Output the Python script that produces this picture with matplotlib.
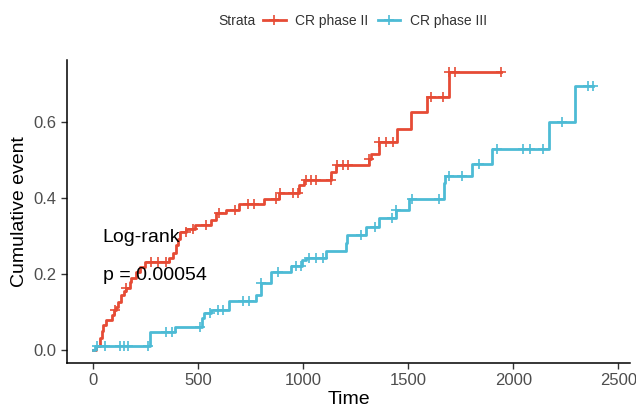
import numpy as np
import matplotlib
matplotlib.use("Agg")
import matplotlib.pyplot as plt
from matplotlib.lines import Line2D

plt.rcParams["font.family"] = ["Liberation Sans", "DejaVu Sans"]

# cumulative event curves (step times / values)
red_t = [0, 17, 33, 45, 49, 65, 89, 100, 112, 120, 136, 150, 160, 175, 183, 207, 223, 247,
         362, 381, 397, 405, 413, 445, 484, 563, 587, 635, 697, 816, 887, 982, 1006,
         1133, 1157, 1314, 1325, 1361, 1447, 1513, 1590, 1694, 1940]
red_v = [0, 0.01, 0.03, 0.05, 0.066, 0.079, 0.092, 0.105, 0.114, 0.125, 0.145, 0.155, 0.162,
         0.178, 0.189, 0.206, 0.219, 0.232, 0.243, 0.256, 0.276, 0.292, 0.311, 0.32, 0.329,
         0.342, 0.36, 0.368, 0.384, 0.397, 0.414, 0.434, 0.447, 0.469, 0.489, 0.503, 0.517,
         0.548, 0.583, 0.627, 0.667, 0.732, 0.732]
red_cens = [105, 160, 278, 310, 350, 444, 476, 539, 602, 674, 737, 768, 871, 888, 950, 974,
            1014, 1037, 1061, 1132, 1159, 1188, 1216, 1314, 1361, 1396, 1428, 1607, 1665,
            1694, 1722, 1940]

blue_t = [0, 9, 270, 389, 520, 531, 563, 650, 776, 800, 848, 943, 995, 1014, 1109, 1205,
          1210, 1298, 1361, 1441, 1504, 1670, 1675, 1804, 1899, 2168, 2295, 2381]
blue_v = [0, 0.01, 0.048, 0.061, 0.083, 0.096, 0.105, 0.129, 0.145, 0.175, 0.206, 0.221,
          0.237, 0.241, 0.261, 0.281, 0.303, 0.325, 0.347, 0.368, 0.399, 0.44, 0.458, 0.491,
          0.531, 0.601, 0.697, 0.697]
blue_cens = [20, 57, 128, 149, 168, 262, 350, 376, 508, 557, 597, 620, 713, 744, 800, 880,
             966, 990, 1030, 1061, 1093, 1274, 1342, 1425, 1441, 1520, 1647, 1694, 1757, 1836,
             1922, 2048, 2080, 2143, 2231, 2357, 2381]

labels = ["CR phase II", "CR phase III"]
colors = ["#E64B35", "#4DBBD5"]


def at(ts, vs, c):
    idx = np.searchsorted(ts, c, side="right") - 1
    return np.array(vs)[idx]


fig = plt.figure(figsize=(6.36, 4.08), dpi=100)
ax = fig.add_axes([0.1053, 0.1103, 0.8853, 0.7427])

for ts, vs, cens, col in [(red_t, red_v, red_cens, colors[0]),
                          (blue_t, blue_v, blue_cens, colors[1])]:
    ax.step(ts, vs, where="post", color=col, lw=2)
    ax.plot(cens, at(ts, vs, cens), ls="none", marker="+", ms=6.5, mew=1.2, color=col)

ax.text(47, 0.297, "Log-rank", fontsize=14, ha="left", va="center")
ax.text(47, 0.197, "p = 0.00054", fontsize=14, ha="left", va="center")

ax.set_xlim(-123, 2555)
ax.set_ylim(-0.035, 0.765)
ax.set_xticks([0, 500, 1000, 1500, 2000, 2500])
ax.set_yticks([0.0, 0.2, 0.4, 0.6])
ax.set_yticklabels(["0.0", "0.2", "0.4", "0.6"])
ax.set_xlabel("Time", fontsize=14, labelpad=2)
ax.set_ylabel("Cumulative event", fontsize=14, labelpad=4)
for s in ["top", "right"]:
    ax.spines[s].set_visible(False)
for s in ["left", "bottom"]:
    ax.spines[s].set_linewidth(1.1)
ax.tick_params(labelsize=12, labelcolor="#4D4D4D", length=4, width=1, color="#333333")

fig.text(0.343, 0.949, "Strata", fontsize=10, color="#333333", ha="left", va="center")
handles = [Line2D([], [], color=c, lw=2, marker="+", ms=6.5, mew=1.2) for c in colors]
fig.legend(handles, labels, loc="center left", bbox_to_anchor=(0.414, 0.949), ncol=2,
           frameon=False, fontsize=10, handlelength=1.6, handletextpad=0.7, columnspacing=0.7,
           borderpad=0, borderaxespad=0, labelcolor="#333333")

fig.savefig("out.png", dpi=100)
